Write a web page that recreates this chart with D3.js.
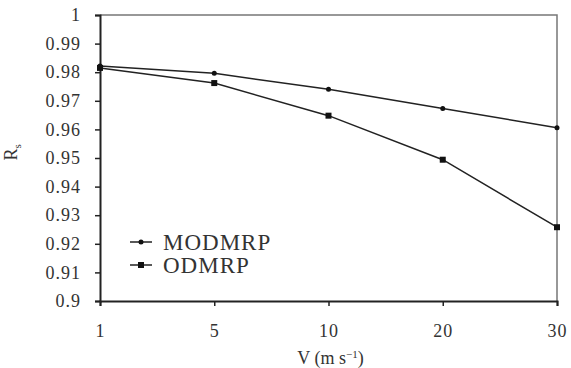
<!DOCTYPE html>
<html>
<head>
<meta charset="utf-8">
<script src="https://cdn.jsdelivr.net/npm/d3@7"></script>
<style>
  body { margin: 0; background: #fff; }
  text { font-family: "Liberation Serif", "Times New Roman", serif; fill: #333; }
</style>
</head>
<body>
<svg id="chart"></svg>
<script>
// Data
const speeds = ["1", "5", "10", "20", "30"];
const modmrp = [0.9822, 0.9796, 0.9740, 0.9673, 0.9606];
const odmrp = [0.9815, 0.9762, 0.9648, 0.9494, 0.9258];
const yTicks = [0.9, 0.91, 0.92, 0.93, 0.94, 0.95, 0.96, 0.97, 0.98, 0.99, 1];

const margin = {top: 15, right: 14, bottom: 67, left: 100};
const W = 571, H = 368;
const width = W - margin.left - margin.right;
const height = H - margin.top - margin.bottom;

const svg = d3.select("#chart")
  .attr("width", W)
  .attr("height", H);

const g = svg.append("g")
  .attr("transform", `translate(${margin.left},${margin.top})`);

const x = d3.scalePoint().domain(speeds).range([0, width]).padding(0);
const y = d3.scaleLinear().domain([0.9, 1]).range([height, 0]);

// frame (top and right in grey)
g.append("path")
  .attr("d", `M0,0H${width}V${height}`)
  .attr("fill", "none")
  .attr("stroke", "#777")
  .attr("stroke-width", 1.5);

// axes
const yAxis = g.append("g")
  .call(d3.axisLeft(y).tickValues(yTicks).tickSize(5).tickPadding(14)
    .tickFormat(d => d3.format("")(+d.toFixed(2))));
const xAxis = g.append("g")
  .attr("transform", `translate(0,${height})`)
  .call(d3.axisBottom(x).tickSize(5).tickPadding(18));

[xAxis, yAxis].forEach(a => {
  a.select(".domain").attr("stroke", "#222").attr("stroke-width", 2);
  a.selectAll(".tick line").attr("stroke", "#222").attr("stroke-width", 1.5);
  a.selectAll(".tick text")
    .style("font-size", "18px")
    .style("letter-spacing", "1px")
    .attr("fill", "#333");
});

// axis titles
const xt = g.append("text")
  .attr("x", x("10") + 2)
  .attr("y", height + 63)
  .attr("text-anchor", "middle")
  .style("font-size", "18px");
xt.append("tspan").text("V (m s");
xt.append("tspan").attr("dy", -6).style("font-size", "11px").text("\u22121");
xt.append("tspan").attr("dy", 6).text(")");

const yt = g.append("text")
  .attr("transform", `translate(-83,${y(0.952)}) rotate(-90)`)
  .attr("text-anchor", "middle")
  .style("font-size", "18px");
yt.append("tspan").text("R");
yt.append("tspan").attr("dy", 4).style("font-size", "11px").text("s");

// lines
const line = d3.line()
  .x((d, i) => x(speeds[i]))
  .y(d => y(d));

const series = [
  {name: "MODMRP", values: modmrp, marker: "dot"},
  {name: "ODMRP", values: odmrp, marker: "square"}
];

series.forEach(s => {
  g.append("path")
    .datum(s.values)
    .attr("d", line)
    .attr("fill", "none")
    .attr("stroke", "#222")
    .attr("stroke-width", 1.5);

  if (s.marker === "dot") {
    g.selectAll(null)
      .data(s.values)
      .enter().append("circle")
      .attr("cx", (d, i) => x(speeds[i]))
      .attr("cy", d => y(d))
      .attr("r", 2.5)
      .attr("fill", "#111");
  } else {
    g.selectAll(null)
      .data(s.values)
      .enter().append("rect")
      .attr("x", (d, i) => x(speeds[i]) - 3)
      .attr("y", d => y(d) - 3)
      .attr("width", 6)
      .attr("height", 6)
      .attr("fill", "#111");
  }
});

// legend
const legend = g.append("g").attr("transform", "translate(30,227)");
series.forEach((s, i) => {
  const row = legend.append("g").attr("transform", `translate(0,${i * 23})`);
  row.append("line")
    .attr("x1", 0).attr("x2", 22)
    .attr("stroke", "#222").attr("stroke-width", 1.5);
  if (s.marker === "dot") {
    row.append("circle").attr("cx", 11).attr("r", 2.5).attr("fill", "#111");
  } else {
    row.append("rect").attr("x", 8).attr("y", -3).attr("width", 6).attr("height", 6).attr("fill", "#111");
  }
  row.append("text")
    .attr("x", 33)
    .attr("dy", "0.35em")
    .style("font-size", "23px")
    .style("letter-spacing", "1px")
    .text(s.name);
});
</script>
</body>
</html>
